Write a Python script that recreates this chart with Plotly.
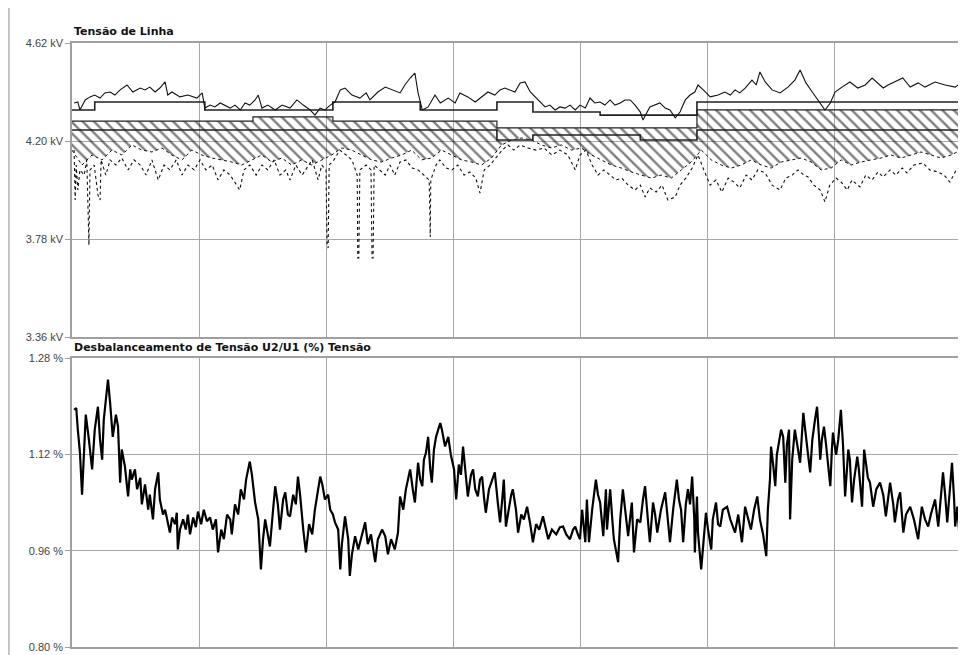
import numpy as np
import plotly.graph_objects as go
from plotly.subplots import make_subplots

# ---------------- DATA ----------------
# Time axis: hours from start (7 days, grid every 24 h)
# Top panel: Tensão de Linha (kV)
max_h = [0.4,1.1,1.5,2.5,3.4,4.3,5.3,6.2,7.2,8.1,9.1,10.4,11.5,12.9,13.8,14.7,15.7,16.6,17.6,18.1,18.9,20.4,21.9,23.6,24.6,25.1,26.1,27.0,28.0,28.9,29.9,30.8,31.8,32.7,33.6,34.6,35.2,35.9,37.0,38.4,39.7,41.2,42.5,43.7,45.0,45.9,46.9,47.8,48.8,49.7,50.7,51.6,52.9,54.4,55.6,56.3,57.8,59.2,60.7,62.0,62.9,63.9,64.8,65.4,66.2,67.3,68.6,69.6,71.1,72.4,73.3,74.8,76.2,77.5,78.6,79.9,80.9,81.8,82.8,83.7,84.7,85.6,86.6,87.5,88.5,89.4,90.3,91.3,92.2,93.2,94.1,95.1,96.0,97.0,97.9,98.8,99.8,100.7,101.7,102.6,103.6,104.5,105.5,106.4,107.4,107.9,109.2,110.2,111.1,112.1,113.0,114.0,114.9,115.9,116.8,117.7,118.3,119.3,120.6,122.1,123.4,124.4,125.3,126.2,127.2,128.5,129.3,130.0,131.0,132.3,133.8,135.3,136.6,137.6,138.7,139.9,141.0,142.3,143.3,144.2,145.5,147.0,148.5,149.9,151.2,152.3,153.3,154.2,155.5,157.0,158.4,159.9,161.2,163.1,165.0,166.9,168.0]
max_kv = [4.363,4.367,4.333,4.376,4.389,4.397,4.384,4.406,4.410,4.397,4.419,4.440,4.410,4.427,4.419,4.431,4.410,4.427,4.453,4.397,4.410,4.389,4.397,4.384,4.406,4.341,4.354,4.346,4.363,4.354,4.341,4.354,4.333,4.363,4.354,4.376,4.397,4.341,4.354,4.333,4.354,4.341,4.376,4.354,4.333,4.311,4.341,4.333,4.354,4.367,4.419,4.427,4.397,4.384,4.406,4.376,4.410,4.431,4.419,4.406,4.440,4.470,4.491,4.406,4.333,4.346,4.397,4.363,4.384,4.363,4.406,4.389,4.367,4.389,4.410,4.397,4.419,4.427,4.419,4.410,4.449,4.453,4.410,4.389,4.363,4.346,4.354,4.333,4.346,4.341,4.354,4.333,4.354,4.341,4.384,4.363,4.367,4.354,4.376,4.354,4.363,4.376,4.376,4.354,4.324,4.290,4.346,4.354,4.363,4.341,4.333,4.299,4.324,4.376,4.397,4.410,4.440,4.419,4.389,4.397,4.410,4.397,4.419,4.406,4.427,4.461,4.440,4.496,4.453,4.419,4.406,4.431,4.461,4.504,4.449,4.410,4.376,4.333,4.363,4.410,4.431,4.453,4.427,4.440,4.470,4.449,4.427,4.440,4.453,4.470,4.431,4.449,4.431,4.453,4.440,4.431,4.449]

# Average (step) levels
avg1_h = [0, 4.3, 25.1, 49.3, 65.8, 80.3, 87.1, 99.8, 118.1, 168]
avg1_kv = [4.333, 4.367, 4.333, 4.367, 4.333, 4.367, 4.324, 4.311, 4.367, 4.367]
avg2_h = [0, 34.2, 49.3, 80.3, 118.1, 168]
avg2_kv = [4.285, 4.303, 4.285, 4.256, 4.333, 4.333]
avg3_h = [0, 49.3, 80.3, 87.1, 107.4, 118.1, 168]
avg3_kv = [4.247, 4.247, 4.204, 4.226, 4.204, 4.247, 4.247]

# Lower edge of the dense band (evenly sampled over the week)
band_low_kv = [4.161,4.097,4.140,4.119,4.161,4.140,4.183,4.161,4.153,4.170,4.140,4.119,4.161,4.140,4.127,4.119,4.110,4.097,4.119,4.140,4.110,4.127,4.097,4.119,4.097,4.119,4.140,4.170,4.161,4.140,4.119,4.110,4.127,4.140,4.161,4.119,4.127,4.161,4.140,4.119,4.110,4.097,4.127,4.183,4.204,4.213,4.204,4.183,4.170,4.183,4.161,4.170,4.140,4.119,4.097,4.084,4.067,4.054,4.041,4.054,4.041,4.076,4.110,4.161,4.119,4.097,4.084,4.097,4.119,4.097,4.084,4.110,4.119,4.127,4.110,4.076,4.084,4.119,4.097,4.110,4.119,4.127,4.140,4.127,4.140,4.153,4.140,4.127,4.140,4.161]

# Minimum values
min_h = [0.4,0.6,0.8,1.1,1.5,2.3,2.8,3.0,3.2,3.4,4.2,4.9,5.3,5.5,6.4,7.2,8.3,9.4,10.6,11.7,12.9,14.0,15.1,16.3,17.4,18.5,19.7,20.8,21.9,23.1,24.2,25.3,26.5,27.6,28.7,29.9,31.0,31.7,32.5,33.6,34.8,35.9,37.0,38.2,39.3,40.4,41.2,42.3,43.5,44.2,45.4,46.5,47.2,48.0,48.2,48.4,48.6,49.5,50.6,51.8,52.9,53.9,54.0,54.2,54.4,55.6,56.5,56.7,56.9,57.1,58.2,59.2,60.1,61.0,62.0,63.1,64.3,65.4,66.5,67.5,67.7,67.8,68.8,69.5,70.7,71.8,72.9,74.1,75.2,76.3,77.1,77.9,79.0,80.1,81.3,82.4,83.5,84.7,86.2,87.7,89.2,90.7,92.2,93.7,95.1,96.0,97.1,98.3,99.4,100.5,101.7,102.8,103.9,105.1,106.4,107.4,108.3,109.2,110.4,111.5,112.6,114.0,114.9,116.0,117.2,118.3,119.4,120.6,121.7,122.8,124.0,125.1,126.2,127.4,128.5,129.6,131.0,132.3,133.8,134.9,136.1,137.2,138.3,139.1,140.2,141.4,142.3,143.2,144.4,145.5,146.5,147.4,148.9,150.0,151.2,152.3,153.3,154.6,155.7,156.9,157.8,159.1,160.8,162.1,163.7,164.8,165.9,167.1,168.0]
min_kv = [4.161,3.947,4.097,3.990,4.076,4.054,4.119,3.853,3.754,4.076,4.097,3.969,3.947,4.119,4.054,4.119,4.097,4.127,4.076,4.119,4.097,4.054,4.119,4.033,4.097,4.076,4.119,4.054,4.097,4.076,4.119,4.076,4.097,4.033,4.076,4.054,4.011,3.990,4.076,4.097,4.054,4.097,4.076,4.119,4.054,4.076,4.033,4.097,4.054,4.076,4.119,4.033,4.097,4.076,3.754,3.741,4.097,4.119,4.161,4.140,4.119,4.054,3.699,3.699,4.076,4.097,4.076,3.699,3.699,4.097,4.076,4.054,4.097,4.054,4.110,4.119,4.084,4.076,4.054,4.033,3.789,4.033,4.097,4.119,4.084,4.076,4.097,4.054,4.067,4.041,3.977,4.076,4.097,4.127,4.161,4.183,4.161,4.183,4.170,4.161,4.170,4.140,4.161,4.140,4.076,4.140,4.161,4.097,4.054,4.076,4.054,4.033,4.041,4.011,3.990,4.011,3.960,3.999,3.981,4.011,3.947,3.960,4.011,4.041,4.084,4.140,4.076,4.011,4.033,3.981,4.041,4.024,3.999,4.054,4.033,4.076,4.063,4.011,3.990,4.041,4.054,4.076,4.054,4.046,4.011,3.990,3.939,4.011,4.041,4.020,3.990,4.033,4.003,4.054,4.033,4.067,4.046,4.076,4.054,4.084,4.063,4.097,4.106,4.076,4.067,4.054,4.024,4.076,4.089]

# Bottom panel: Desbalanceamento de Tensão U2/U1 (%)
unb_h = [0.4,0.8,1.1,1.5,1.9,2.3,2.6,3.2,3.8,4.3,4.9,5.3,5.7,6.0,6.4,6.8,7.2,7.6,7.7,8.3,8.7,9.1,9.4,10.0,10.6,11.0,11.3,11.9,12.3,12.9,13.2,13.8,14.4,14.7,15.3,15.7,16.3,16.6,17.2,17.6,18.1,18.5,18.9,19.5,19.8,20.0,20.4,21.0,21.5,21.9,22.3,22.9,23.4,23.8,24.4,24.9,25.5,26.1,26.6,27.2,27.6,28.2,28.7,29.3,29.9,30.2,30.8,31.4,31.9,32.5,32.9,33.3,33.6,34.0,34.6,35.2,35.7,36.1,36.5,37.0,37.4,38.0,38.4,38.9,39.3,39.9,40.3,40.8,41.2,41.8,42.3,42.7,43.1,43.7,44.2,44.8,45.4,45.9,46.5,46.9,47.3,47.8,48.4,48.8,49.3,49.7,50.3,50.7,51.0,51.6,52.2,52.5,52.9,53.5,54.1,54.8,55.4,55.9,56.5,57.3,57.8,58.6,59.2,59.7,60.3,61.0,61.6,62.0,62.6,63.1,63.9,64.4,64.8,65.4,65.8,66.2,66.5,66.9,67.3,67.7,68.0,68.4,68.8,69.2,69.6,69.9,70.5,71.1,71.6,72.2,72.6,73.1,73.5,73.9,74.5,74.8,75.4,75.8,76.2,76.7,77.1,77.5,77.9,78.2,78.8,79.4,79.9,80.5,80.9,81.3,81.6,82.0,82.6,83.0,83.3,83.9,84.3,84.9,85.4,86.0,86.6,87.1,87.7,88.3,89.0,89.6,90.0,90.7,91.5,92.2,92.8,93.4,94.1,94.7,95.1,95.6,96.0,96.4,96.8,97.0,97.3,97.7,98.3,99.0,99.4,99.8,100.4,100.9,101.1,101.7,102.1,102.4,103.2,103.6,104.1,104.7,105.1,105.8,106.2,106.8,107.4,107.9,108.3,108.9,109.2,109.8,110.2,110.6,111.3,112.1,112.6,113.0,113.6,114.3,114.7,115.1,115.5,116.0,116.4,116.8,117.2,117.6,117.7,118.1,118.3,118.9,119.3,119.8,120.2,120.8,121.1,121.7,122.1,122.5,123.0,123.8,124.4,125.3,125.9,126.6,127.2,127.8,128.3,128.9,129.5,130.0,130.6,131.2,131.5,131.9,132.1,132.5,132.9,133.2,133.6,134.0,134.4,134.8,135.1,135.5,135.7,136.1,136.6,137.0,137.6,138.2,138.7,139.1,139.5,139.9,140.4,140.8,141.2,141.4,141.7,142.1,142.5,142.9,143.3,143.6,143.8,144.4,144.8,145.3,145.7,146.1,146.5,146.7,147.0,147.4,147.8,148.4,148.7,149.3,149.7,150.1,150.4,150.8,151.4,152.0,152.7,153.3,153.8,154.2,154.6,155.2,155.5,156.1,156.5,157.1,157.6,158.4,159.1,159.9,160.3,160.6,161.2,161.8,162.3,163.1,163.7,164.2,164.6,165.0,165.4,165.9,166.3,166.7,166.9,167.3,167.8,168.0]
unb_pct = [1.194,1.197,1.161,1.123,1.053,1.128,1.186,1.144,1.095,1.161,1.199,1.144,1.111,1.177,1.206,1.244,1.206,1.169,1.149,1.186,1.166,1.073,1.128,1.100,1.050,1.095,1.078,1.095,1.062,1.081,1.037,1.070,1.028,1.053,1.012,1.062,1.090,1.045,1.020,1.028,1.004,0.990,1.015,1.004,1.023,0.962,0.995,1.012,0.995,1.020,0.987,1.015,0.999,1.025,1.004,1.028,1.009,1.015,0.995,1.012,0.957,0.995,0.979,1.020,1.012,0.987,1.037,1.020,1.062,1.045,1.078,1.095,1.108,1.086,1.040,1.012,0.929,0.979,1.012,0.987,0.967,1.028,1.067,1.037,0.995,1.045,1.057,1.020,1.017,1.053,1.037,1.083,1.053,0.995,0.957,1.004,0.987,1.028,1.062,1.083,1.070,1.045,1.053,1.028,1.020,1.007,0.995,0.929,0.971,1.017,0.979,0.918,0.954,0.984,0.962,0.987,1.007,0.971,0.987,0.941,0.979,0.995,0.984,0.954,0.979,0.962,0.990,1.050,1.028,1.062,1.095,1.062,1.040,1.106,1.078,1.067,1.111,1.123,1.149,1.095,1.073,1.128,1.149,1.161,1.172,1.161,1.133,1.149,1.119,1.095,1.045,1.103,1.086,1.133,1.078,1.050,1.086,1.095,1.062,1.050,1.078,1.083,1.045,1.023,1.062,1.078,1.090,1.037,1.007,1.045,1.078,1.000,1.037,1.053,1.062,1.028,0.990,1.020,1.012,1.033,1.004,0.974,1.004,0.995,1.017,0.995,0.979,0.995,0.987,0.999,1.000,0.987,0.979,0.995,1.000,0.987,0.979,1.028,0.995,0.974,1.045,0.974,1.028,1.078,1.053,1.040,0.984,1.062,0.995,1.062,1.012,0.979,0.941,1.012,1.062,1.020,0.984,1.040,0.957,1.012,1.007,1.045,1.067,1.004,0.974,1.040,1.020,0.990,1.028,1.057,1.004,0.974,1.028,1.078,1.045,1.028,0.974,1.037,1.062,1.037,1.083,1.012,0.957,1.050,0.990,0.929,0.971,1.023,0.995,0.962,1.012,1.040,1.004,1.000,1.028,1.033,1.012,0.990,1.020,0.974,1.033,1.012,0.995,1.028,1.050,1.012,0.987,0.951,1.028,1.078,1.133,1.103,1.067,1.119,1.144,1.161,1.149,1.073,1.136,1.161,1.012,1.111,1.161,1.136,1.106,1.189,1.144,1.119,1.090,1.144,1.177,1.199,1.144,1.111,1.144,1.166,1.136,1.106,1.067,1.128,1.156,1.119,1.144,1.194,1.136,1.050,1.095,1.128,1.111,1.040,1.078,1.116,1.095,1.033,1.128,1.095,1.081,1.073,1.033,1.062,1.073,1.053,1.017,1.045,1.073,1.037,1.007,1.045,1.057,0.990,1.020,1.033,1.012,0.979,1.012,1.033,1.012,1.000,1.020,1.045,1.000,1.045,1.090,1.053,1.007,1.062,1.106,1.045,1.000,1.033,0.974,0.929]

top_ticks = [3.36, 3.78, 4.20, 4.62]
top_ticktext = ["3.36 kV", "3.78 kV", "4.20 kV", "4.62 kV"]
bot_ticks = [0.80, 0.96, 1.12, 1.28]
bot_ticktext = ["0.80 %", "0.96 %", "1.12 %", "1.28 %"]
titles = ["Tensão de Linha", "Desbalanceamento de Tensão U2/U1 (%) Tensão"]

# ---------------- FIGURE ----------------
# page body has an 8 px margin, so the figure itself is 8 px smaller and offset
OFF = 8
W, H = 966 - OFF, 655 - OFF
fig = make_subplots(rows=2, cols=1)

band_x = np.linspace(0, 168, len(band_low_kv))
# hatch band: upper edge (avg2 step), lower jagged edge filled with hatch pattern
fig.add_trace(go.Scatter(x=avg2_h, y=avg2_kv, mode="lines", line=dict(width=0, shape="hv"),
                         hoverinfo="skip", showlegend=False), row=1, col=1)
fig.add_trace(go.Scatter(x=band_x, y=band_low_kv, mode="lines", fill="tonexty",
                         fillcolor="rgba(0,0,0,0)",
                         fillpattern=dict(shape="\\", fgcolor="#000", bgcolor="rgba(255,255,255,0)",
                                          size=8, solidity=0.3),
                         line=dict(color="#111", width=1, dash="dot"), showlegend=False), row=1, col=1)
for hx, kv, w in [(avg1_h, avg1_kv, 1.6), (avg2_h, avg2_kv, 1.2), (avg3_h, avg3_kv, 1.6)]:
    fig.add_trace(go.Scatter(x=hx, y=kv, mode="lines", line=dict(color="#222", width=w, shape="hv"),
                             showlegend=False), row=1, col=1)
fig.add_trace(go.Scatter(x=min_h, y=min_kv, mode="lines", line=dict(color="#111", width=1.1, dash="dot"),
                         showlegend=False), row=1, col=1)
fig.add_trace(go.Scatter(x=max_h, y=max_kv, mode="lines", line=dict(color="#111", width=1.1),
                         showlegend=False), row=1, col=1)

fig.add_trace(go.Scatter(x=unb_h, y=unb_pct, mode="lines", line=dict(color="black", width=2.2),
                         showlegend=False), row=2, col=1)

xl, xr = (72 - OFF) / W, (961 - OFF) / W
top_dom = [1 - (337 - OFF) / H, 1 - (43 - OFF) / H]
bot_dom = [1 - (647 - OFF) / H, 1 - (358 - OFF) / H]

axis_common = dict(showline=True, linecolor="#a0a0a0", linewidth=1.5, mirror=True,
                   showgrid=True, gridcolor="#a8a8a8", gridwidth=1, zeroline=False,
                   automargin=False)
for r in (1, 2):
    fig.update_xaxes(range=[0, 168], dtick=24, tick0=0, showticklabels=False, ticks="",
                     domain=[xl, xr], row=r, col=1, **axis_common)
fig.update_yaxes(range=[3.36, 4.62], tickvals=top_ticks, ticktext=top_ticktext, domain=top_dom,
                 ticks="outside", ticklen=5, tickcolor="#a0a0a0", row=1, col=1, **axis_common)
fig.update_yaxes(range=[0.80, 1.28], tickvals=bot_ticks, ticktext=bot_ticktext, domain=bot_dom,
                 ticks="outside", ticklen=5, tickcolor="#a0a0a0", row=2, col=1, **axis_common)

fig.add_annotation(text="<b>" + titles[0] + "</b>", xref="paper", yref="paper", x=xl,
                   y=1 - (32 - OFF) / H, xanchor="left", yanchor="middle", showarrow=False,
                   font=dict(family="DejaVu Sans", size=11, color="#111"))
fig.add_annotation(text="<b>" + titles[1] + "</b>", xref="paper", yref="paper", x=xl,
                   y=1 - (347 - OFF) / H, xanchor="left", yanchor="middle", showarrow=False,
                   font=dict(family="DejaVu Sans", size=11, color="#111"))

# left frame line of the report page
fig.add_shape(type="line", xref="paper", yref="paper", x0=0.001, x1=0.001, y0=0, y1=1,
              line=dict(color="#b0b4bc", width=1.5))

fig.update_layout(width=W, height=H, margin=dict(l=0, r=0, t=0, b=0),
                  paper_bgcolor="white", plot_bgcolor="white",
                  font=dict(family="Liberation Sans, Arial", size=11, color="#444"))

fig.write_html("out.html")
